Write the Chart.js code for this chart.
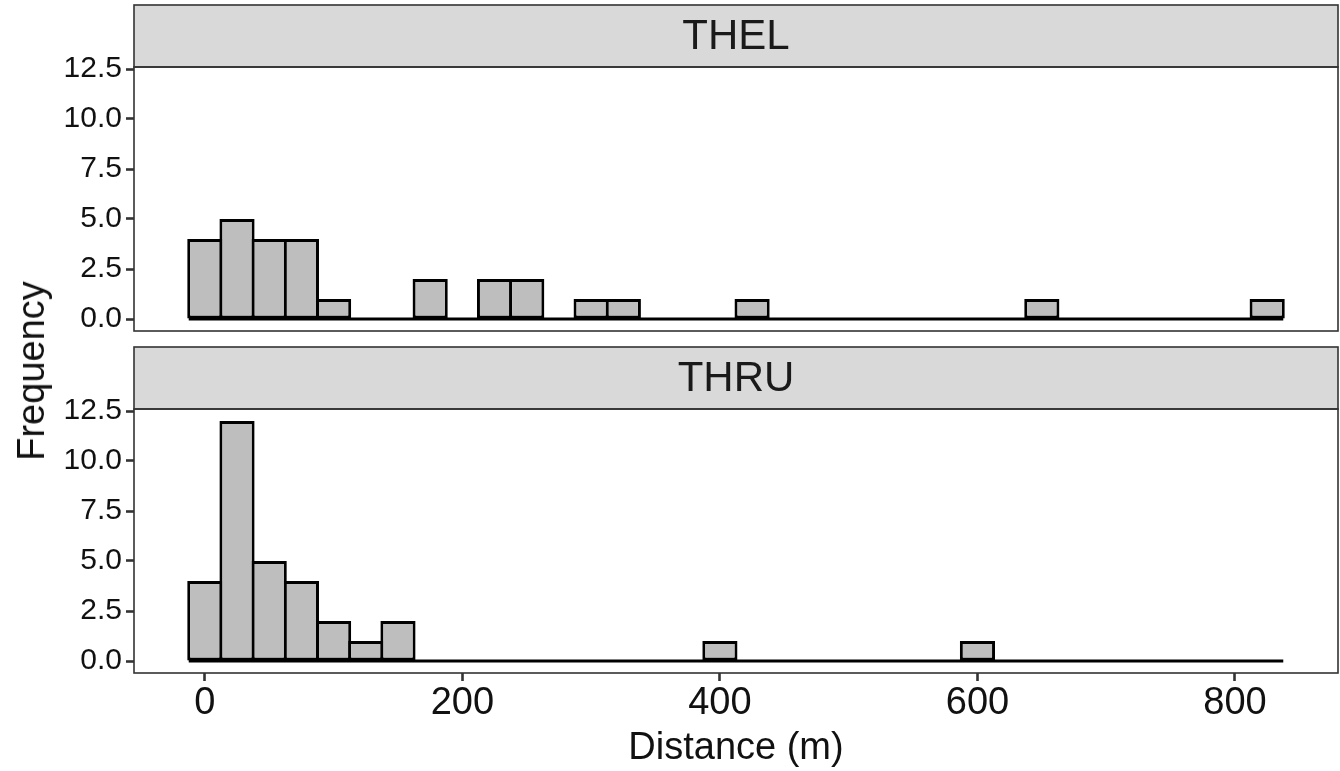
<!DOCTYPE html>
<html><head><meta charset="utf-8">
<script src="https://cdn.jsdelivr.net/npm/chart.js@4"></script>
<style>
html,body{margin:0;padding:0;background:#fff;}
#wrap{position:relative;width:1340px;height:771px;overflow:hidden;font-family:'Liberation Sans',Arial,sans-serif;background:#fff;}
canvas{position:absolute;left:0;}
#c1{top:0;width:1340px;height:345px;}
#c2{top:345px;width:1340px;height:426px;}
#ytitle{position:absolute;left:31px;top:371px;transform:translate(-50%,-50%) rotate(-90deg);font-size:38px;color:#111;white-space:nowrap;line-height:1;}
</style></head>
<body><div id="wrap">
<canvas id="c1" width="1340" height="345"></canvas>
<canvas id="c2" width="1340" height="426"></canvas>
<div id="ytitle">Frequency</div>
</div>
<script>
// Histogram bins (bin width 25 m, centred on multiples of 25)
const binCenters = [0,25,50,75,100,125,150,175,200,225,250,275,300,325,350,375,400,425,450,475,500,525,550,575,600,625,650,675,700,725,750,775,800,825];
const thelCounts = [4,5,4,4,1,0,0,2,0,2,2,0,1,1,0,0,0,1,0,0,0,0,0,0,0,0,1,0,0,0,0,0,0,1];
const thruCounts = [4,12,5,4,2,1,2,0,0,0,0,0,0,0,0,0,1,0,0,0,0,0,0,0,1,0,0,0,0,0,0,0,0,0];
const panelLabels = ['THEL','THRU'];
const yTicks = [0,2.5,5,7.5,10,12.5];
const xTicks = [0,200,400,600,800];
const binWidth = 25;
const xTitle = 'Distance (m)';

const FONT = "'Liberation Sans', Arial, sans-serif";

const stripPlugin = {
  id: 'strip',
  afterDraw(chart, args, opts) {
    const {ctx, chartArea: a} = chart;
    ctx.save();
    ctx.fillStyle = '#D9D9D9';
    ctx.fillRect(a.left, opts.top, a.right - a.left, a.top - opts.top);
    ctx.lineWidth = 1.6;
    ctx.strokeStyle = '#333333';
    ctx.strokeRect(a.left, opts.top, a.right - a.left, a.top - opts.top);
    ctx.strokeRect(a.left, a.top, a.right - a.left, a.bottom - a.top);
    ctx.fillStyle = '#1a1a1a';
    ctx.font = '42px ' + FONT;
    ctx.textAlign = 'center';
    ctx.textBaseline = 'middle';
    ctx.fillText(opts.label, (a.left + a.right) / 2, (opts.top + a.top) / 2 + 1);
    ctx.restore();
  }
};

function makeChart(id, counts, label, stripTop, padTop, padBottom, showX) {
  return new Chart(document.getElementById(id), {
    type: 'bar',
    data: {
      datasets: [
        {
          type: 'bar',
          data: binCenters.map((x, i) => ({x: x, y: counts[i]})),
          backgroundColor: '#BEBEBE',
          borderColor: '#000000',
          borderWidth: 3,
          borderSkipped: false,
          barPercentage: 1.093,
          categoryPercentage: 1,
          order: 1
        },
        {
          type: 'line',
          data: [
            {x: binCenters[0] - binWidth / 2, y: 0},
            {x: binCenters[binCenters.length - 1] + binWidth / 2, y: 0}
          ],
          borderColor: '#000000',
          borderWidth: 3,
          pointRadius: 0,
          order: 2
        }
      ]
    },
    options: {
      responsive: false,
      animation: false,
      devicePixelRatio: 1,
      layout: {padding: {top: padTop, right: 2, bottom: padBottom, left: 0}},
      plugins: {
        legend: {display: false},
        tooltip: {enabled: false},
        strip: {label: label, top: stripTop}
      },
      scales: {
        x: {
          type: 'linear',
          min: -55,
          max: 880,
          offset: false,
          display: showX,
          afterBuildTicks: s => { s.ticks = xTicks.map(v => ({value: v})); },
          afterFit: s => { if (showX) { s.height = 98; } s.paddingLeft = 0; s.paddingRight = 0; },
          ticks: {
            font: {size: 38, family: FONT},
            color: '#111111',
            padding: 0,
            maxRotation: 0,
            autoSkip: false,
            callback: v => String(v)
          },
          grid: {display: true, offset: false, drawOnChartArea: false, drawTicks: true, tickLength: 8, tickWidth: 2.6, tickColor: '#333333'},
          border: {display: false},
          title: {display: true, text: xTitle, font: {size: 38, family: FONT}, color: '#111111', padding: {top: 0, bottom: 0}}
        },
        y: {
          min: -0.6,
          max: 12.6,
          afterBuildTicks: s => { s.ticks = yTicks.map(v => ({value: v})); },
          afterFit: s => { s.width = 134; s.paddingTop = 0; s.paddingBottom = 0; },
          ticks: {
            font: {size: 30, family: FONT},
            color: '#111111',
            padding: 4,
            autoSkip: false,
            callback: v => Number(v).toFixed(1)
          },
          grid: {drawOnChartArea: false, drawTicks: true, tickLength: 8, tickWidth: 2.6, tickColor: '#333333'},
          border: {display: false}
        }
      }
    },
    plugins: [stripPlugin]
  });
}

makeChart('c1', thelCounts, panelLabels[0], 5, 67, 14, false);
makeChart('c2', thruCounts, panelLabels[1], 2, 64, 0, true);
</script>
</body></html>
